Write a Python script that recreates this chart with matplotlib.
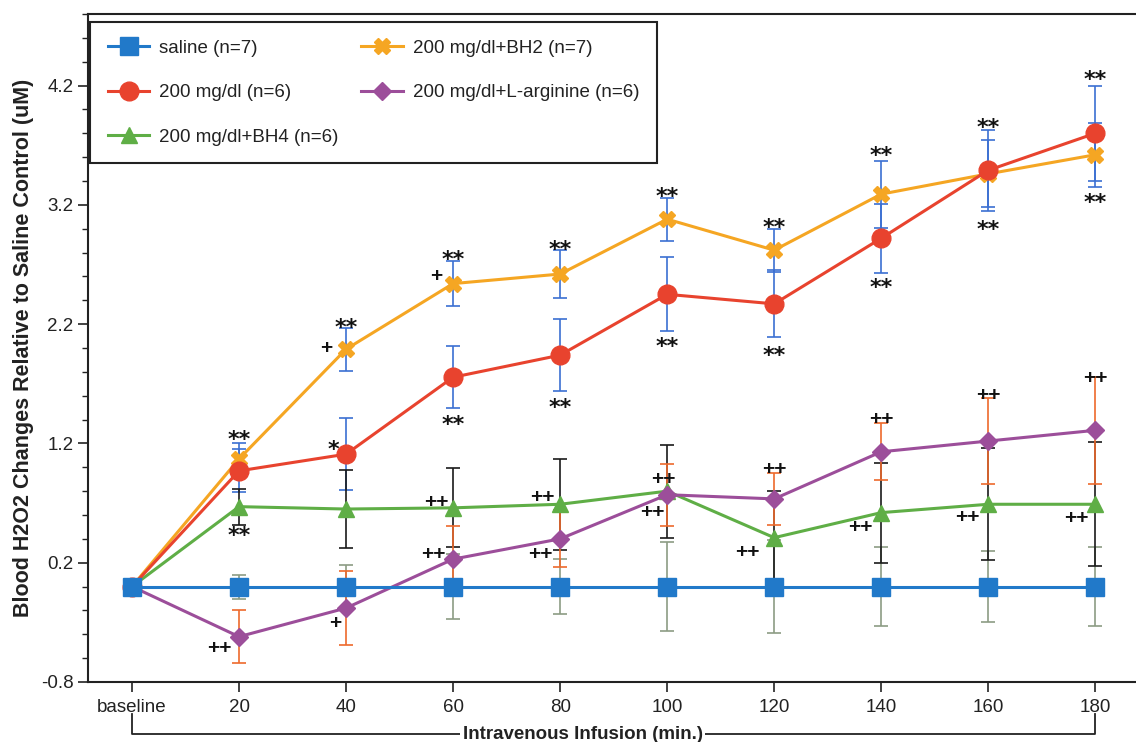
import matplotlib
matplotlib.use('Agg')
import matplotlib.pyplot as plt
import numpy as np
from matplotlib.ticker import FixedLocator
from matplotlib.transforms import blended_transform_factory

plt.rcParams['font.family'] = ['Liberation Sans', 'DejaVu Sans']

categories = ['baseline', '20', '40', '60', '80', '100', '120', '140', '160', '180']
labels = ['saline (n=7)', '200 mg/dl (n=6)', '200 mg/dl+BH4 (n=6)',
          '200 mg/dl+BH2 (n=7)', '200 mg/dl+L-arginine (n=6)']

saline = [0, 0, 0, 0, 0, 0, 0, 0, 0, 0]
saline_err = [0, 0.10, 0.18, 0.27, 0.23, 0.37, 0.39, 0.33, 0.30, 0.33]
mg200 = [0, 0.97, 1.11, 1.755, 1.94, 2.45, 2.37, 2.92, 3.49, 3.80]
mg200_err = [0, 0.18, 0.30, 0.26, 0.30, 0.31, 0.28, 0.29, 0.34, 0.40]
bh4 = [0, 0.67, 0.65, 0.66, 0.69, 0.80, 0.41, 0.62, 0.69, 0.69]
bh4_err = [0, 0.15, 0.33, 0.33, 0.38, 0.39, 0.39, 0.42, 0.47, 0.52]
bh2 = [0, 1.07, 1.99, 2.54, 2.62, 3.08, 2.82, 3.29, 3.46, 3.62]
bh2_err = [0, 0.13, 0.18, 0.19, 0.20, 0.18, 0.18, 0.28, 0.28, 0.27]
larg = [0, -0.42, -0.18, 0.23, 0.40, 0.77, 0.735, 1.13, 1.22, 1.31]
larg_err = [0, 0.22, 0.31, 0.28, 0.24, 0.26, 0.22, 0.24, 0.36, 0.45]

# significance marks: category index, value (centre of mark), text
ann_x = [1, 1, 1,
         2, 2, 2, 2,
         3, 3, 3, 3, 3,
         4, 4, 4, 4,
         5, 5, 5, 5,
         6, 6, 6, 6,
         7, 7, 7, 7,
         8, 8, 8, 8,
         9, 9, 9, 9]
ann_y = [1.28, 0.48, -0.51,
         2.22, 2.01, 1.20, -0.30,
         2.79, 2.61, 1.41, 0.72, 0.28,
         2.88, 1.55, 0.76, 0.28,
         3.32, 2.06, 0.91, 0.63,
         3.06, 1.99, 0.99, 0.30,
         3.66, 2.56, 1.41, 0.51,
         3.90, 3.04, 1.61, 0.59,
         4.30, 3.27, 1.76, 0.58]
ann_text = ['**', '**', '++',
            '**', '+', '*', '+',
            '**', '+', '**', '++', '++',
            '**', '**', '++', '++',
            '**', '**', '++', '++',
            '**', '**', '++', '++',
            '**', '**', '++', '++',
            '**', '**', '++', '++',
            '**', '**', '++', '++']
# horizontal shift of each mark, in points (layout only)
ann_dx = [0, 0, -14,
          0, -14, -9, -8,
          0, -12, 0, -12, -14,
          0, 0, -13, -14,
          0, 0, -3, -11,
          0, 0, 0, -19,
          0, 0, 0, -15,
          0, 0, 0, -15,
          0, 0, 0, -14]

x = np.arange(len(categories))

fig = plt.figure(figsize=(11.36, 7.42), dpi=100)
ax = fig.add_axes([88 / 1136, 60 / 742, (1136 - 88) / 1136, (682 - 14) / 742])

series = [
    (saline, saline_err, '#2179c9', '#8c9c84', 's', 13, labels[0], 6),
    (mg200, mg200_err, '#e8432e', '#3b6fd2', 'o', 13.5, labels[1], 5),
    (bh4, bh4_err, '#5fae46', '#1a1a1a', '^', 11, labels[2], 3),
    (bh2, bh2_err, '#f5a623', '#3b6fd2', 'X', 11, labels[3], 4),
    (larg, larg_err, '#9c4e9a', '#ee6a2c', 'D', 9, labels[4], 3.5),
]

handles = {}
for y, e, col, ecol, mk, ms, lab, z in series:
    ax.errorbar(x, y, yerr=e, fmt='none', ecolor=ecol, elinewidth=1.2,
                capsize=5, capthick=1.2, zorder=2)
    h, = ax.plot(x, y, color=col, marker=mk, ms=ms, lw=2.2, label=lab,
                 zorder=z, markeredgecolor=col)
    handles[lab] = h

for xi, yi, t, dx in zip(ann_x, ann_y, ann_text, ann_dx):
    if '*' in t:
        ax.annotate(t, (xi, yi), xytext=(dx, -9), textcoords='offset points',
                    ha='center', va='baseline', fontsize=16, fontweight='bold',
                    family='DejaVu Sans', color='#111111', zorder=7)
    else:
        ax.annotate(t, (xi, yi), xytext=(dx, -5), textcoords='offset points',
                    ha='center', va='baseline', fontsize=15, fontweight='bold',
                    family='Liberation Sans', color='#111111', zorder=7)

ax.set_xlim(-0.411, 9.38)
ax.set_ylim(-0.8, 4.8)
ax.set_xticks(x)
ax.set_xticklabels(categories)
ax.yaxis.set_major_locator(FixedLocator([-0.8, 0.2, 1.2, 2.2, 3.2, 4.2]))
ax.yaxis.set_minor_locator(FixedLocator(np.arange(-0.8, 4.81, 0.2)))
ax.set_yticklabels(['-0.8', '0.2', '1.2', '2.2', '3.2', '4.2'])
ax.tick_params(axis='both', which='major', labelsize=13.5, length=7, width=1.2,
               direction='out', color='#222222', labelcolor='#222222')
ax.tick_params(axis='y', which='minor', length=4, width=1.0, color='#222222')
ax.tick_params(axis='x', which='major', pad=5)

ax.spines['right'].set_visible(False)
for s in ['left', 'bottom', 'top']:
    ax.spines[s].set_linewidth(1.5)
    ax.spines[s].set_color('#222222')

ax.set_ylabel('Blood H2O2 Changes Relative to Saline Control (uM)',
              fontsize=15.5, fontweight='bold', color='#222222', labelpad=5)

# bracket under the x axis
tr = blended_transform_factory(ax.transData, ax.transAxes)
yb_top, yb_bot = -0.048, -0.078
ax.plot([0, 0, 9, 9], [yb_top, yb_bot, yb_bot, yb_top], transform=tr,
        color='#222222', lw=1.3, clip_on=False)
ax.text(4.21, yb_bot, 'Intravenous Infusion (min.)', transform=tr, ha='center',
        va='center', fontsize=13.5, fontweight='bold', color='#222222',
        bbox=dict(facecolor='white', edgecolor='none', pad=2))

leg = ax.legend([handles[l] for l in labels], labels, loc='upper left',
                bbox_to_anchor=(0.002, 0.988), borderaxespad=0, ncol=2,
                fontsize=13.5, frameon=True, fancybox=False, framealpha=1,
                edgecolor='#222222', handlelength=2.2, handletextpad=0.55,
                columnspacing=1.2, labelspacing=1.45, borderpad=0.95)
leg.get_frame().set_linewidth(1.5)
for t in leg.get_texts():
    t.set_color('#222222')

fig.savefig('out.png', dpi=100)
